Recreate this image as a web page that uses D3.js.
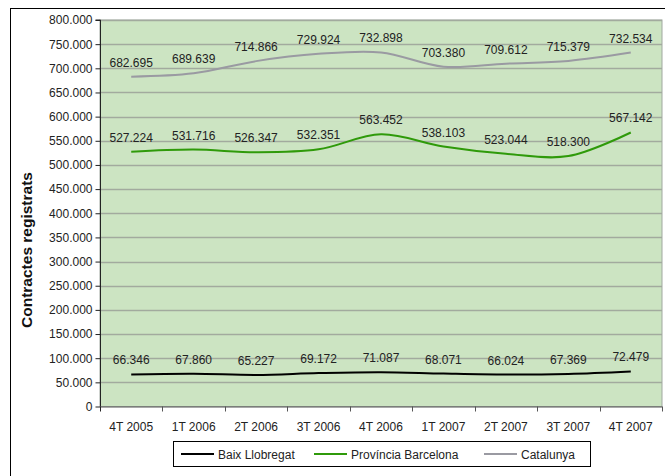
<!DOCTYPE html>
<html><head><meta charset="utf-8">
<script src="https://cdn.jsdelivr.net/npm/d3@7"></script>
<style>body{margin:0;background:#fff}svg{display:block;font-family:"Liberation Sans",Arial,sans-serif}</style>
</head><body><svg id="c" width="665" height="476"></svg>
<script>
const categories = ["4T 2005","1T 2006","2T 2006","3T 2006","4T 2006","1T 2007","2T 2007","3T 2007","4T 2007"];
const baixLlobregat = [66346,67860,65227,69172,71087,68071,66024,67369,72479];
const provinciaBarcelona = [527224,531716,526347,532351,563452,538103,523044,518300,567142];
const catalunya = [682695,689639,714866,729924,732898,703380,709612,715379,732534];
const seriesNames = ["Baix Llobregat","Província Barcelona","Catalunya"];
const yTicks = d3.range(0, 800001, 50000);
const yTitle = "Contractes registrats";

const series = [
  {name: seriesNames[0], values: baixLlobregat, color: "#000000"},
  {name: seriesNames[1], values: provinciaBarcelona, color: "#2f9a0a"},
  {name: seriesNames[2], values: catalunya, color: "#9a9aa2"}
];

const FONT = "Liberation Sans, Arial, sans-serif";
const svg = d3.select("#c");
const L = 100, T = 20, R = 662, B = 406.5;
const fmt = v => v === 0 ? "0" : d3.format(",")(v).replace(/,/g, ".");

// outer frame
svg.append("rect").attr("x",10.5).attr("y",8.5).attr("width",660).attr("height",470)
  .attr("fill","#fff").attr("stroke","#000").attr("stroke-width",1);

const x = d3.scaleBand().domain(categories).range([L, R]).padding(0);
const y = d3.scaleLinear().domain([0, 800000]).range([B, T]);

svg.append("rect").attr("x",L).attr("y",T).attr("width",R-L).attr("height",B-T)
  .attr("fill","#cce4c2").attr("stroke","#a0a8a0");

// gridlines
svg.append("g").selectAll("line").data(yTicks.filter(d=>d>0)).join("line")
  .attr("x1",L).attr("x2",R).attr("y1",d=>Math.round(y(d))+0.5).attr("y2",d=>Math.round(y(d))+0.5)
  .attr("stroke","#a2aa9e").attr("stroke-width",1.3);

// y axis
const ya = svg.append("g").attr("transform",`translate(${L+0.5},0)`)
  .call(d3.axisLeft(y).tickValues(yTicks).tickFormat(fmt).tickSize(5).tickPadding(3));
ya.select(".domain").attr("stroke","#222").attr("d",`M-5,${y(800000)}H0V${B}`);
ya.selectAll(".tick line").attr("stroke","#222");
ya.selectAll("text").attr("font-size",12).attr("fill","#222").attr("font-family",FONT);

// x axis
const xa = svg.append("g").attr("transform",`translate(0,${B})`);
xa.append("line").attr("x1",L).attr("x2",R).attr("y1",0.5).attr("y2",0.5).attr("stroke","#555");
xa.selectAll("line.t").data(categories).join("line").attr("class","t")
  .attr("x1",d=>Math.round(x(d)+x.bandwidth())+0.5)
  .attr("x2",d=>Math.round(x(d)+x.bandwidth())+0.5)
  .attr("y1",0).attr("y2",5).attr("stroke","#555");
xa.append("line").attr("x1",L+0.5).attr("x2",L+0.5).attr("y1",0).attr("y2",5).attr("stroke","#222");
xa.selectAll("text").data(categories).join("text")
  .attr("x",d=>x(d)+x.bandwidth()/2).attr("y",24).attr("text-anchor","middle")
  .attr("font-size",12).attr("fill","#222").text(d=>d);

// title
svg.append("text").attr("transform",`translate(32,250) rotate(-90)`)
  .attr("text-anchor","middle").attr("font-size",15.5).attr("font-weight","bold").attr("fill","#111").text(yTitle);

// lines
const line = d3.line().x((d,i)=>x(categories[i])+x.bandwidth()/2).y(d=>y(d)).curve(d3.curveCatmullRom.alpha(0.5));
series.forEach(s=>{
  svg.append("path").attr("d",line(s.values)).attr("fill","none").attr("stroke",s.color).attr("stroke-width",2);
  svg.append("g").selectAll("text").data(s.values).join("text")
    .attr("x",(d,i)=>x(categories[i])+x.bandwidth()/2).attr("y",d=>y(d)-10)
    .attr("text-anchor","middle").attr("font-size",12).attr("fill","#222").text(fmt);
});

// legend
const lg = svg.append("g");
lg.append("rect").attr("x",173.5).attr("y",441.5).attr("width",417).attr("height",25).attr("fill","#fff").attr("stroke","#000");
const lx = [181, 314, 484];
series.forEach((s,i)=>{
  lg.append("line").attr("x1",lx[i]).attr("x2",lx[i]+33).attr("y1",454).attr("y2",454).attr("stroke",s.color).attr("stroke-width",2);
  lg.append("text").attr("x",lx[i]+37).attr("y",458.5).attr("font-size",12).attr("fill","#222").text(s.name);
});
</script></body></html>
